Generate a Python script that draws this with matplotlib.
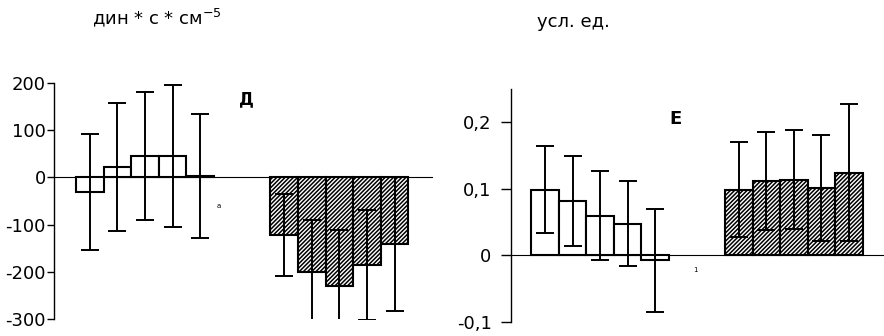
import numpy as np
import matplotlib
matplotlib.use("Agg")
import matplotlib.pyplot as plt

plt.rcParams['font.family'] = ['DejaVu Sans']
plt.rcParams['hatch.linewidth'] = 1.1

# panel Д, дин * с * см-5
d_open = [-31, 22, 45, 45, 3]
d_open_err = [123, 136, 136, 150, 132]
d_hatch = [-121, -200, -231, -186, -141]
d_hatch_err = [87, 109, 119, 117, 141]
d_ticks = [-300, -200, -100, 0, 100, 200]
d_ticklabels = ['-300', '-200', '-100', '0', '100', '200']

# panel Е, усл. ед.
e_open = [0.099, 0.082, 0.060, 0.048, -0.0075]
e_open_err = [0.065, 0.068, 0.067, 0.064, 0.078]
e_hatch = [0.099, 0.112, 0.114, 0.101, 0.124]
e_hatch_err = [0.072, 0.073, 0.074, 0.080, 0.103]
e_ticks = [-0.1, 0, 0.1, 0.2]
e_ticklabels = ['-0,1', '0', '0,1', '0,2']

w = 0.142


def panel(ax, open_v, open_e, hatch_v, hatch_e, ylim, ticks, labels, xlim, pad, tlen):
    xs = (np.arange(5) - 2) * w
    ax.bar(xs, open_v, w, color='white', edgecolor='black', linewidth=1.5, zorder=2)
    ax.bar(xs + 1, hatch_v, w, color='white', edgecolor='black', linewidth=1.5,
           hatch='////////', zorder=2)
    ax.errorbar(xs, open_v, yerr=open_e, fmt='none', ecolor='black', elinewidth=1.4,
                capsize=6.5, capthick=1.4, zorder=3)
    ax.errorbar(xs + 1, hatch_v, yerr=hatch_e, fmt='none', ecolor='black', elinewidth=1.4,
                capsize=6.5, capthick=1.4, zorder=3)
    ax.set_xlim(*xlim)
    ax.set_ylim(*ylim)
    ax.set_yticks(ticks)
    ax.set_yticklabels(labels, fontsize=13)
    ax.tick_params(axis='y', length=tlen, width=1, pad=pad)
    ax.set_xticks([])
    for s in ['top', 'right']:
        ax.spines[s].set_visible(False)
    ax.spines['bottom'].set_position(('data', 0))
    ax.spines['bottom'].set_zorder(1)
    ax.spines['left'].set_linewidth(1)


fig = plt.figure(figsize=(8.84, 3.36), dpi=100)
ax1 = fig.add_axes([0.0611, 0.0506, 0.4276, 0.702])
ax2 = fig.add_axes([0.578, 0.0417, 0.421, 0.693])

panel(ax1, d_open, d_open_err, d_hatch, d_hatch_err, (-300, 200), d_ticks, d_ticklabels,
      (-0.468, 1.476), 1, 5)
panel(ax2, e_open, e_open_err, e_hatch, e_hatch_err, (-0.1, 0.25), e_ticks, e_ticklabels,
      (-0.46, 1.46), 7, 7)

ax1.text(0.52, 165, 'Д', fontsize=12, fontweight='bold', ha='center', va='center')
ax1.text(0.38, -60, 'а', fontsize=5, ha='center', va='center')
ax2.text(0.39, 0.205, 'Е', fontsize=13, fontweight='bold', ha='center', va='center')
ax2.text(0.49, -0.022, '1', fontsize=5, ha='center', va='center')

fig.text(92 / 884, 1 - 18 / 336, 'дин * с * см$^{-5}$', fontsize=13, ha='left', va='center')
fig.text(537 / 884, 1 - 22 / 336, 'усл. ед.', fontsize=13, ha='left', va='center')

fig.savefig('out.png', dpi=100)
